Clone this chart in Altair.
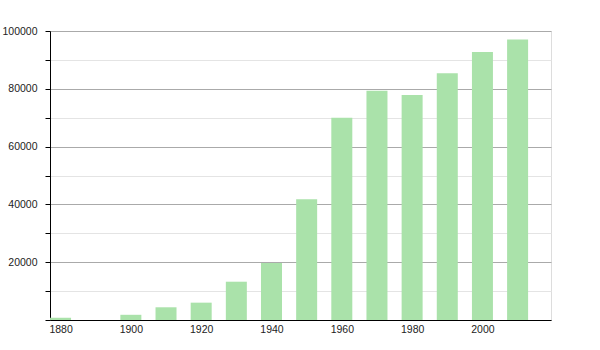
import altair as alt
import pandas as pd

years = [1880, 1900, 1910, 1920, 1930, 1940, 1950, 1960, 1970, 1980, 1990, 2000, 2010]
population = [800, 1800, 4400, 6000, 13250, 19700, 41750, 70000, 79350, 77850, 85350, 92700, 97100]

df = pd.DataFrame({"year": years, "population": population})

y_ticks = list(range(0, 100001, 10000))
x_ticks = list(range(1880, 2001, 20))

chart = alt.Chart(df).mark_bar(color="#aae2aa", size=21).encode(
    x=alt.X(
        "year:Q",
        scale=alt.Scale(domain=[1877, 2019.5], nice=False, zero=False, padding=0),
        axis=alt.Axis(
            title=None, values=x_ticks, format="d", grid=False,
            tickSize=0, domainColor="#000000", domainWidth=1,
            labelFont="Liberation Sans", labelFontSize=10.5, labelColor="#222222",
            labelPadding=4,
        ),
    ),
    y=alt.Y(
        "population:Q",
        scale=alt.Scale(domain=[0, 100000], nice=False),
        axis=alt.Axis(
            title=None, values=y_ticks, format="d",
            labelExpr="datum.value % 20000 === 0 && datum.value > 0 ? datum.label : ''",
            grid=True,
            gridColor={"condition": {"test": "datum.value % 20000 === 0", "value": "#aaaaaa"}, "value": "#e4e4e4"},
            tickSize=5, tickColor="#000000",
            domainColor="#000000", domainWidth=1,
            labelFont="Liberation Sans", labelFontSize=10.5, labelColor="#222222",
            labelPadding=8,
        ),
    ),
).properties(
    width=501, height=289,
    autosize=alt.AutoSizeParams(type="none"),
    padding={"left": 50, "top": 31, "right": 49, "bottom": 30},
).configure_view(stroke=None).configure(background="#ffffff")

chart.save("out.html", embed_options={"renderer": "svg", "actions": False})
